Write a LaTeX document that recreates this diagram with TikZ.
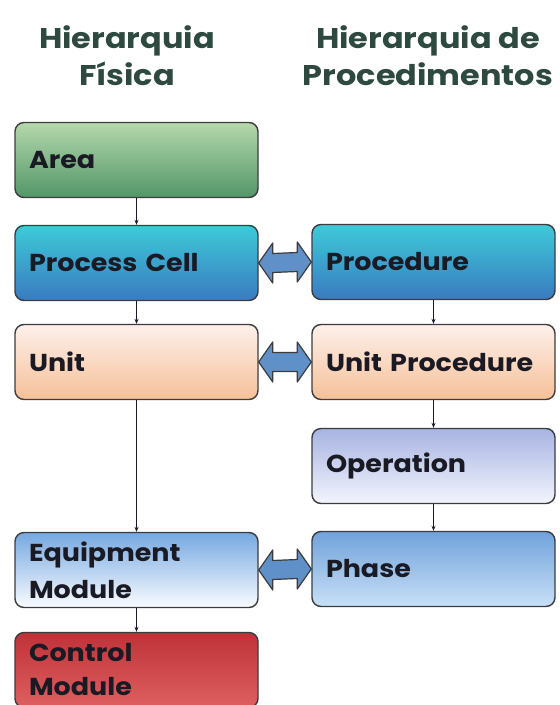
\documentclass[tikz,border=0pt]{standalone}
\usepackage{fontspec}
\setmainfont{Poppins}
\usetikzlibrary{calc,arrows.meta}

\definecolor{titlegreen}{RGB}{46,74,64}
\definecolor{textdark}{RGB}{26,26,36}
\definecolor{edgegray}{RGB}{60,60,64}
\definecolor{linkblue}{RGB}{95,145,200}
\definecolor{areatop}{RGB}{180,216,172}
\definecolor{areabot}{RGB}{82,150,104}
\definecolor{celltop}{RGB}{62,202,216}
\definecolor{cellbot}{RGB}{58,122,192}
\definecolor{unittop}{RGB}{253,240,234}
\definecolor{unitbot}{RGB}{246,192,152}
\definecolor{opertop}{RGB}{168,180,226}
\definecolor{operbot}{RGB}{242,244,252}
\definecolor{phasetop}{RGB}{112,162,218}
\definecolor{phasebot}{RGB}{200,224,246}
\definecolor{equiptop}{RGB}{118,168,224}
\definecolor{equipbot}{RGB}{250,252,255}
\definecolor{ctrltop}{RGB}{190,50,56}
\definecolor{ctrlbot}{RGB}{222,96,96}

\tikzset{
  hbox/.style={draw=edgegray, line width=1.4pt, rounded corners=9pt,
    minimum width=243pt, minimum height=75pt, inner xsep=14pt,
    text width=215pt, align=left, text=textdark,
    font=\bfseries\fontsize{24.5}{37}\selectfont\addfontfeature{FakeStretch=1.1}},
  title/.style={align=center, text=titlegreen,
    font=\bfseries\fontsize{28.5}{37}\selectfont\addfontfeature{FakeStretch=1.12}},
  conn/.style={draw=textdark, line width=1.8pt,
    -{Stealth[length=5pt,width=4pt]}},
  linkarrow/.style={fill=linkblue, draw=edgegray, line width=1.2pt,
    line join=round}
}

% fat two-headed arrow between two side-by-side boxes
\newcommand\twoway[2]{%
  \path[linkarrow] (#1.east) -- ($(#1.east)+(14,-20)$) -- ($(#1.east)+(14,-9.5)$)
    -- ($(#2.west)+(-14,-9.5)$) -- ($(#2.west)+(-14,-20)$) -- (#2.west)
    -- ($(#2.west)+(-14,20)$) -- ($(#2.west)+(-14,9.5)$)
    -- ($(#1.east)+(14,9.5)$) -- ($(#1.east)+(14,20)$) -- cycle;}

\begin{document}
\begin{tikzpicture}[x=1pt,y=-1pt]
\useasboundingbox (0,0) rectangle (560,705);
\clip (0,0) rectangle (560,705);

% column headings
\node[title] (tphys) at (127,56) {Hierarquia\\Física};
\node[title] (tproc) at (428,56) {Hierarquia de\\Procedimentos};

% physical hierarchy
\node[hbox, top color=areatop, bottom color=areabot] (area) at (136.5,160) {Area};
\node[hbox, top color=celltop, bottom color=cellbot] (pcell) at (136.5,263) {Process Cell};
\node[hbox, top color=unittop, bottom color=unitbot] (unit) at (136.5,362) {Unit};
\node[hbox, top color=equiptop, bottom color=equipbot] (emod) at (136.5,570) {Equipment\\Module};
\node[hbox, top color=ctrltop, bottom color=ctrlbot,
      font=\bfseries\fontsize{24.5}{34}\selectfont\addfontfeature{FakeStretch=1.1}]
      (cmod) at (136.5,670) {Control\\Module};

% procedural hierarchy
\node[hbox, top color=celltop, bottom color=cellbot] (proc) at (433.5,262) {Procedure};
\node[hbox, top color=unittop, bottom color=unitbot] (uproc) at (433.5,362) {Unit Procedure};
\node[hbox, top color=opertop, bottom color=operbot] (oper) at (433.5,466) {Operation};
\node[hbox, top color=phasetop, bottom color=phasebot] (phase) at (433.5,569) {Phase};

% vertical links
\draw[conn] (area) -- (pcell);
\draw[conn] (pcell) -- (unit);
\draw[conn] (unit) -- (emod);
\draw[conn] (emod) -- (cmod);
\draw[conn] (proc) -- (uproc);
\draw[conn] (uproc) -- (oper);
\draw[conn] (oper) -- (phase);

% correspondences between the two hierarchies
\twoway{pcell}{proc}
\twoway{unit}{uproc}
\twoway{emod}{phase}
\end{tikzpicture}
\end{document}
